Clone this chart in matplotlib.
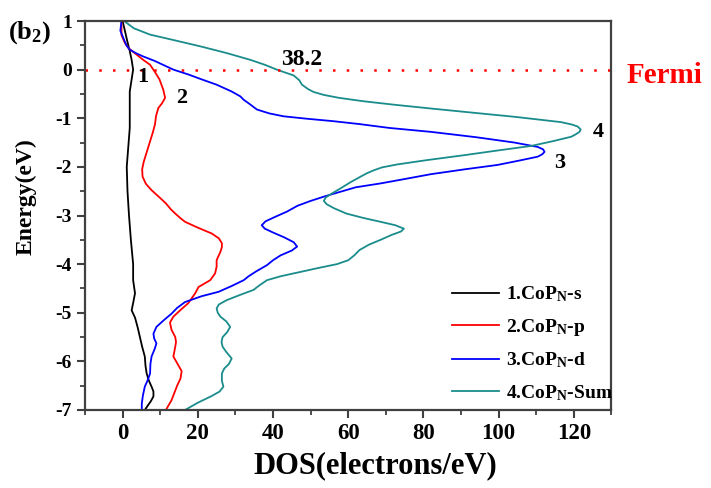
import matplotlib
matplotlib.use("Agg")
import matplotlib.pyplot as plt

plt.rcParams['font.family'] = ['Liberation Serif', 'DejaVu Serif']
plt.rcParams['font.weight'] = 'bold'
plt.rcParams['axes.unicode_minus'] = False
plt.rcParams['mathtext.fontset'] = 'custom'
plt.rcParams['mathtext.rm'] = 'Liberation Serif:bold'
plt.rcParams['mathtext.it'] = 'Liberation Serif:bold'
plt.rcParams['mathtext.bf'] = 'Liberation Serif:bold'
plt.rcParams['mathtext.default'] = 'rm'

# energy (eV) / DOS (electrons/eV)
s_energy = [1.0, 0.8, 0.6, 0.38, 0.2, 0.0, -0.2, -0.45, -0.8, -1.2, -1.6, -2.0, -2.5, -3.0,
            -3.5, -4.0, -4.33, -4.6, -4.8, -4.95, -5.1, -5.3, -5.5, -5.7, -5.9, -6.1, -6.25,
            -6.4, -6.52, -6.62, -6.72, -6.82, -6.92, -7.0]
s_dos = [0.0, 0.6, 1.2, 1.9, 2.4, 2.8, 2.4, 1.9, 1.9, 1.9, 1.5, 1.1, 1.3, 1.7,
         2.2, 2.8, 2.8, 3.3, 2.8, 2.4, 3.3, 4.0, 4.6, 5.2, 5.9, 6.1, 6.4,
         7.0, 7.7, 8.2, 8.2, 7.5, 6.6, 5.9]

p_energy = [1.0, 0.71, 0.55, 0.44, 0.31, 0.2, 0.1, -0.05, -0.2, -0.41, -0.58, -0.69, -0.79,
            -0.95, -1.13, -1.3, -1.45, -1.6, -1.75, -1.9, -2.05, -2.2, -2.35, -2.48, -2.62,
            -2.75, -2.87, -2.96, -3.05, -3.13, -3.25, -3.37, -3.47, -3.57, -3.65, -3.75,
            -3.85, -3.92, -4.05, -4.19, -4.33, -4.47, -4.6, -4.7, -4.8, -4.95, -5.08, -5.2,
            -5.35, -5.5, -5.6, -5.7, -5.9, -6.05, -6.2, -6.35, -6.5, -6.6, -6.8, -7.0]
p_dos = [-0.3, -0.3, 0.6, 1.6, 3.7, 5.5, 7.3, 8.6, 9.8, 10.8, 11.3, 10.5, 9.5,
         8.9, 8.6, 8.0, 7.4, 6.8, 6.2, 5.6, 5.2, 5.3, 6.2, 7.7, 9.7,
         11.5, 12.8, 14.0, 15.3, 16.6, 20.0, 23.7, 25.6, 26.4, 26.4, 26.0,
         25.4, 25.0, 25.0, 24.6, 23.3, 20.2, 19.3, 18.4, 17.5, 15.3, 13.5, 12.6,
         13.0, 14.0, 14.2, 14.0, 13.5, 14.6, 15.7, 15.4, 14.5, 14.0, 13.0, 11.5]

d_energy = [1.0, 0.8, 0.65, 0.5, 0.41, 0.34, 0.27, 0.18, 0.09, 0.0, -0.1, -0.2, -0.31,
            -0.45, -0.55, -0.62, -0.72, -0.82, -0.9, -0.96, -1.01, -1.06, -1.12, -1.2,
            -1.28, -1.39, -1.5, -1.59, -1.64, -1.69, -1.74, -1.79, -1.87, -1.96, -2.05,
            -2.15, -2.25, -2.34, -2.42, -2.51, -2.6, -2.7, -2.8, -2.92, -3.03, -3.12, -3.2,
            -3.27, -3.35, -3.45, -3.55, -3.64, -3.72, -3.82, -3.92, -4.02, -4.15, -4.25,
            -4.33, -4.45, -4.57, -4.66, -4.78, -4.9, -5.02, -5.15, -5.29, -5.43, -5.53,
            -5.63, -5.75, -5.9, -6.05, -6.25, -6.4, -6.52, -6.7, -6.87, -7.0]
d_dos = [-0.3, -0.6, 0.2, 1.0, 1.9, 3.5, 5.5, 8.5, 11.0, 13.5, 17.5, 21.0, 25.0,
         29.0, 31.3, 32.2, 34.0, 35.7, 39.0, 42.8, 49.0, 56.0, 63.0, 71.0,
         82.0, 94.0, 104.2, 110.4, 111.8, 112.2, 111.6, 110.4, 105.5, 99.7, 91.0,
         82.0, 75.0, 68.6, 62.0, 58.0, 54.0, 50.0, 46.5, 43.7, 40.5, 38.0, 37.0,
         37.8, 40.0, 43.0, 45.5, 46.4, 45.0, 42.0, 40.0, 38.4, 35.5, 33.5,
         32.2, 29.0, 25.5, 21.0, 16.6, 14.5, 13.0, 11.0, 9.0, 8.2, 8.4,
         9.0, 8.5, 7.7, 7.4, 7.3, 6.6, 5.9, 5.4, 5.1, 5.1]

sum_energy = [1.0, 0.85, 0.72, 0.6, 0.48, 0.34, 0.2, 0.1, 0.0, -0.12, -0.22, -0.31, -0.4,
              -0.46, -0.52, -0.58, -0.65, -0.72, -0.8, -0.9, -0.97, -1.03, -1.08, -1.13,
              -1.17, -1.23, -1.28, -1.33, -1.38, -1.47, -1.57, -1.66, -1.76, -1.86, -1.95,
              -2.01, -2.07, -2.13, -2.2, -2.32, -2.44, -2.55, -2.63, -2.7, -2.77, -2.85,
              -2.96, -3.05, -3.13, -3.2, -3.27, -3.33, -3.4, -3.5, -3.6, -3.71, -3.82,
              -3.92, -4.0, -4.08, -4.16, -4.25, -4.33, -4.43, -4.53, -4.64, -4.74, -4.83,
              -4.91, -5.0, -5.08, -5.18, -5.29, -5.4, -5.5, -5.6, -5.7, -5.8, -5.94,
              -6.05, -6.15, -6.25, -6.4, -6.52, -6.62, -6.72, -6.85, -7.0]
sum_dos = [0.4, 3.0, 7.3, 14.0, 20.6, 27.7, 34.0, 37.8, 41.0, 45.5, 47.0, 47.7, 49.3,
           50.8, 53.5, 57.5, 64.0, 72.0, 82.0, 95.0, 104.2, 111.0, 116.6, 119.5,
           121.0, 121.8, 121.5, 120.5, 119.3, 114.5, 108.6, 100.0, 90.8, 81.0, 73.0,
           69.0, 66.8, 65.0, 63.3, 60.5, 58.0, 55.6, 54.0, 53.5, 54.3, 56.2,
           59.5, 64.0, 68.6, 72.5, 74.8, 74.0, 71.5, 68.6, 65.5, 63.0, 61.6,
           60.0, 57.0, 52.0, 47.3, 42.0, 38.4, 36.5, 34.8, 31.0, 27.7, 25.6,
           25.0, 25.3, 26.0, 27.6, 28.6, 27.8, 26.6, 26.3, 26.6, 27.5, 29.0,
           28.3, 27.0, 26.4, 26.4, 26.8, 25.8, 23.5, 20.0, 16.6]

labels = ['1.CoP$_N$-s', '2.CoP$_N$-p', '3.CoP$_N$-d', '4.CoP$_N$-Sum']
colors = ['black', '#ff0000', '#0000ff', '#1a8c8c']

fig = plt.figure(figsize=(7.11, 4.88), dpi=100)
ax = fig.add_axes([85 / 711, 78 / 488, 526.5 / 711, 389 / 488])

curves = [(s_dos, s_energy), (p_dos, p_energy), (d_dos, d_energy), (sum_dos, sum_energy)]
for (x, y), lab, c in zip(curves, labels, colors):
    ax.plot(x, y, color=c, lw=1.3, label=lab)

ax.axhline(0, color='#ff0000', lw=1.8, linestyle=(0, (1, 4.5)))

ax.set_xlim(-10, 130)
ax.set_ylim(-7, 1)
ax.set_xticks(range(0, 121, 20))
ax.set_xticks(range(-10, 131, 10), minor=True)
ax.set_yticks(range(-7, 2))
ax.set_yticks([v / 2 for v in range(-14, 3)], minor=True)
ax.tick_params(axis='x', which='major', labelsize=16.5, length=6, width=1.5, color='#404040')
ax.tick_params(axis='y', which='major', labelsize=14, length=6, width=1.5, color='#404040')
ax.tick_params(which='minor', length=3.5, width=1.3, color='#404040')
for sp in ax.spines.values():
    sp.set_color('#404040')
    sp.set_linewidth(1.6)

ax.set_xlabel('DOS(electrons/eV)', fontsize=22, fontweight='bold')
ax.xaxis.set_label_coords(0.551, -0.105)
ax.set_ylabel('Energy(eV)', fontsize=17, fontweight='bold')
ax.yaxis.set_label_coords(-0.091, 0.548)

# curve numbers and annotations
ax.text(5.4, -0.15, '1', fontsize=16, ha='center', va='center')
ax.text(15.7, -0.58, '2', fontsize=16, ha='center', va='center')
ax.text(116.2, -1.93, '3', fontsize=16, ha='center', va='center')
ax.text(126.4, -1.28, '4', fontsize=16, ha='center', va='center')
ax.text(47.7, 0.21, '38.2', fontsize=17, ha='center', va='center')
ax.text(134, -0.12, 'Fermi', fontsize=21, color='#ff0000', ha='left', va='center',
        clip_on=False)
fig.text(0.011, 1 - 33 / 488, '(b$_2$)', fontsize=19, fontweight='bold', va='center')

leg = ax.legend(loc='upper left', bbox_to_anchor=(0.697, 0.322), frameon=False,
                fontsize=14, handlelength=2.4, handletextpad=0.36, labelspacing=0.65,
                borderpad=0, borderaxespad=0)

fig.savefig('out.png', dpi=100)
